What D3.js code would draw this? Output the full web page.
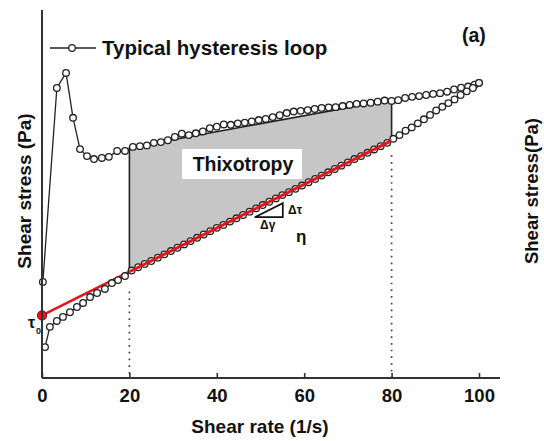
<!DOCTYPE html>
<html lang="en">
<head>
<meta charset="UTF-8">
<title>Typical hysteresis loop</title>
<script src="https://d3js.org/d3.v7.min.js"></script>
<style>
  body { margin: 0; background: #fff; }
  svg { display: block; font-family: "Liberation Sans", Arial, sans-serif; font-weight: bold; }
</style>
</head>
<body>
<div id="chart"></div>
<script>
// shear-rate ticks
const rateTicks = [0, 20, 40, 60, 80, 100];

// up curve (increasing shear rate)
const upRate = [0.2, 3.4, 5.5, 7.1, 8.7, 10.3, 11.9, 13.7, 15.3, 17.2, 19.0,
  20.8, 22.4, 24.0, 25.6, 27.2, 28.8, 30.4, 32.0, 33.6, 35.2, 36.8, 38.4, 40.0,
  41.6, 43.2, 44.8, 46.4, 48.0, 49.6, 51.2, 52.8, 54.4, 56.0, 57.6, 59.2, 60.8,
  62.4, 64.0, 65.6, 67.2, 68.8, 70.4, 72.0, 73.6, 75.2, 76.8, 78.4, 80.0,
  81.5, 83.1, 84.7, 86.3, 87.9, 89.5, 91.1, 92.7, 94.3, 95.9, 97.5, 99.0, 100];
const upStress = [26.1, 78.8, 82.9, 70.7, 62.2, 60.3, 59.5, 59.8, 60.1, 61.7, 61.7,
  62.8, 63.0, 63.2, 63.9, 64.1, 64.6, 65.5, 66.4, 66.0, 66.5, 67.0, 67.9, 68.3,
  68.9, 68.8, 69.2, 69.4, 69.7, 70.1, 70.4, 70.9, 71.4, 72.0, 72.4, 72.6, 72.8,
  73.1, 73.4, 73.5, 73.6, 73.9, 74.2, 74.5, 74.6, 74.8, 75.1, 75.4, 75.3,
  75.5, 76.1, 76.4, 76.6, 76.9, 77.2, 77.4, 77.8, 78.4, 78.9, 79.2, 79.7, 80.2];

// down curve (decreasing shear rate)
const downRate = [100, 98.6, 97.2, 95.8, 94.4, 93.0, 91.6, 90.2, 88.8, 87.4, 86.0,
  84.6, 83.2, 81.8, 80.4, 79.0, 77.5, 76.0, 74.5, 73.0, 71.5, 70.0, 68.5, 67.0,
  65.5, 64.0, 62.5, 61.0, 59.5, 58.0, 56.5, 55.0, 53.5, 52.0, 50.5, 49.0, 47.5,
  46.0, 44.5, 43.0, 41.5, 40.0, 38.5, 37.0, 35.5, 34.0, 32.5, 31.0, 29.5, 28.0,
  26.5, 25.0, 23.5, 22.0, 20.5, 19.0, 17.4, 16.0, 14.4, 12.6, 11.0, 9.4, 8.0,
  6.4, 4.8, 3.4, 1.8, 0.7];
const downStress = [80.2, 78.8, 77.9, 76.9, 75.7, 74.7, 73.7, 72.7, 71.5, 70.3, 69.2,
  68.1, 67.2, 66.0, 65.0, 63.9, 63.0, 62.1, 61.2, 60.3, 59.5, 58.6, 57.7, 56.8,
  55.9, 55.0, 54.1, 53.2, 52.3, 51.4, 50.5, 49.7, 48.8, 47.9, 47.0, 46.1, 45.2,
  44.3, 43.4, 42.5, 41.6, 40.8, 39.9, 39.0, 38.1, 37.2, 36.3, 35.4, 34.5, 33.6,
  32.7, 31.8, 31.0, 30.1, 29.2, 27.7, 26.6, 25.8, 24.2, 23.1, 22.0, 20.4, 19.3,
  17.9, 16.6, 15.5, 13.9, 8.4];

// thixotropy area between the curves (20 - 80 1/s)
const areaRate = [20, 80, 80, 20];
const areaStress = [62.6, 75.6, 64.5, 28.9];

// Bingham fit: yield stress tau0 and line end
const fitRate = [0, 80];
const fitStress = [17.0, 64.5];

// slope triangle for eta
const triRate = [48.7, 55.1, 55.1];
const triStress = [43.7, 47.5, 43.7];

const width = 544, height = 441;
const svg = d3.select("#chart").append("svg")
  .attr("width", width).attr("height", height);

const x = d3.scaleLinear().domain([0, 100]).range([42, 479]);
const y = d3.scaleLinear().domain([0, 100]).range([378, 10]);

const up = upRate.map((r, i) => [r, upStress[i]]);
const down = downRate.map((r, i) => [r, downStress[i]]);
const line = d3.line().x(d => x(d[0])).y(d => y(d[1]));

// grey area
svg.append("path")
  .attr("d", line(areaRate.map((r, i) => [r, areaStress[i]])) + "Z")
  .attr("fill", "#c6c6c6")
  .attr("stroke", "#222")
  .attr("stroke-width", 1.6);

// dotted guides at 20 and 80
svg.selectAll(".guide")
  .data([[20, 23.5], [80, 60.5]])
  .enter().append("line")
  .attr("x1", d => x(d[0])).attr("x2", d => x(d[0]))
  .attr("y1", d => y(d[1])).attr("y2", y(0))
  .attr("stroke", "#444")
  .attr("stroke-width", 1.7)
  .attr("stroke-dasharray", "1.7,5");

// red fit line under the markers
const fit = fitRate.map((r, i) => [r, fitStress[i]]);
svg.append("path")
  .attr("d", line(fit))
  .attr("stroke", "#e3141b").attr("stroke-width", 2.6).attr("fill", "none");

// loop line
svg.append("path")
  .attr("d", line(up.concat(down)))
  .attr("fill", "none")
  .attr("stroke", "#222")
  .attr("stroke-width", 1.3);

// markers
svg.selectAll(".pt")
  .data(up.concat(down))
  .enter().append("circle")
  .attr("cx", d => x(d[0]))
  .attr("cy", d => y(d[1]))
  .attr("r", 3.3)
  .attr("fill", "#fff")
  .attr("stroke", "#222")
  .attr("stroke-width", 1.3);

// red fit segment over the area edge
svg.append("path")
  .attr("d", line([[20, fitStress[0] + (fitStress[1] - fitStress[0]) / 4], fit[1]]))
  .attr("stroke", "#e3141b").attr("stroke-width", 3).attr("fill", "none");

// tau0 dot
svg.append("circle")
  .attr("cx", x(fitRate[0])).attr("cy", y(fitStress[0]))
  .attr("r", 4.6)
  .attr("fill", "#e3141b").attr("stroke", "#611").attr("stroke-width", 1);

// axes
const xAxis = d3.axisBottom(x).tickValues(rateTicks)
  .tickSize(-5).tickSizeOuter(0).tickPadding(11);
const gx = svg.append("g").attr("transform", `translate(0,${y(0)})`).call(xAxis);
gx.select(".domain").remove();
gx.selectAll(".tick line").attr("stroke", "#333").attr("stroke-width", 1.6);
gx.selectAll(".tick text")
  .attr("font-size", 18.5).attr("font-weight", "bold")
  .attr("font-family", "Liberation Sans, Arial, sans-serif")
  .attr("fill", "#111");

svg.append("line")
  .attr("x1", x(0)).attr("x2", x(104.8))
  .attr("y1", y(0)).attr("y2", y(0))
  .attr("stroke", "#333").attr("stroke-width", 2);
svg.append("line")
  .attr("x1", x(0)).attr("x2", x(0))
  .attr("y1", y(0)).attr("y2", y(100))
  .attr("stroke", "#333").attr("stroke-width", 2);

// axis titles
svg.append("text")
  .attr("x", 260).attr("y", 433)
  .attr("text-anchor", "middle")
  .attr("font-size", 19).attr("fill", "#111")
  .text("Shear rate (1/s)");
svg.append("text")
  .attr("transform", "translate(31,191) rotate(-90)")
  .attr("text-anchor", "middle")
  .attr("font-size", 19).attr("fill", "#111")
  .text("Shear stress (Pa)");
svg.append("text")
  .attr("transform", "translate(538,191) rotate(-90)")
  .attr("text-anchor", "middle")
  .attr("font-size", 18.5).attr("fill", "#111")
  .text("Shear stress(Pa)");

// legend
svg.append("line")
  .attr("x1", 50).attr("x2", 96).attr("y1", 48).attr("y2", 48)
  .attr("stroke", "#222").attr("stroke-width", 1.3);
svg.append("circle")
  .attr("cx", 72).attr("cy", 48).attr("r", 3.3)
  .attr("fill", "#fff").attr("stroke", "#222").attr("stroke-width", 1.3);
svg.append("text")
  .attr("x", 102).attr("y", 55)
  .attr("font-size", 20.5).attr("fill", "#111")
  .text("Typical hysteresis loop");

svg.append("text")
  .attr("x", 462).attr("y", 42)
  .attr("font-size", 19.5).attr("fill", "#111")
  .text("(a)");

// thixotropy label
svg.append("rect")
  .attr("x", 182).attr("y", 149).attr("width", 120).attr("height", 30)
  .attr("fill", "#fff");
svg.append("text")
  .attr("x", 243).attr("y", 171)
  .attr("text-anchor", "middle")
  .attr("font-size", 19.5).attr("fill", "#111")
  .text("Thixotropy");

// slope triangle
svg.append("path")
  .attr("d", line(triRate.map((r, i) => [r, triStress[i]])) + "Z")
  .attr("fill", "#fff").attr("stroke", "#111").attr("stroke-width", 1.7);
svg.append("text")
  .attr("x", 288).attr("y", 214)
  .attr("font-size", 12).attr("fill", "#111")
  .text("Δτ");
svg.append("text")
  .attr("x", 260).attr("y", 229)
  .attr("font-size", 12).attr("fill", "#111")
  .text("Δγ");
svg.append("text")
  .attr("x", 296).attr("y", 242)
  .attr("font-size", 17).attr("fill", "#111")
  .text("η");

// tau0 label
svg.append("text")
  .attr("x", 28).attr("y", 328)
  .attr("font-size", 16).attr("fill", "#111")
  .text("τ");
svg.append("text")
  .attr("x", 36).attr("y", 334)
  .attr("font-size", 9).attr("fill", "#111")
  .text("0");
</script>
</body>
</html>
